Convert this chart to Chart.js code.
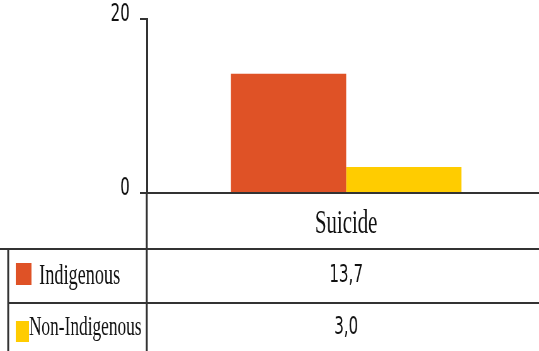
<!DOCTYPE html>
<html>
<head>
<meta charset="utf-8">
<script src="https://cdn.jsdelivr.net/npm/chart.js@4/dist/chart.umd.min.js"></script>
<style>
  html, body { margin: 0; padding: 0; background: #fff; overflow: hidden; }
  #frame { width: 539px; height: 351px; overflow: hidden; }
  #wrap { width: 866px; height: 351px; transform: scaleX(0.63); transform-origin: 0 0; }
</style>
</head>
<body>
<div id="frame"><div id="wrap"><canvas id="rateChart" width="866" height="351"></canvas></div></div>
<script>
const categories = ["Suicide"];
const seriesNames = ["Indigenous", "Non-Indigenous"];
const indigenous = [13.7];
const nonIndigenous = [3.0];
const yTicks = [0, 20];

const colors = ["#DF5226", "#FFCC00"];
const lineColor = "#333";

function fmt(v) {
    return v.toFixed(1).replace(".", ",");
}

// data table under the axis: one row per series with a colour key
const tablePlugin = {
    id: "dataTable",
    afterDraw(chart) {
        const ctx = chart.ctx;
        const area = chart.chartArea;
        const W = chart.width;
        const H = chart.height;
        const axisX = area.left;
        const leftX = 13;
        const top = 249;
        const mid = 303;

        ctx.save();
        ctx.strokeStyle = lineColor;

        ctx.lineWidth = 2;
        ctx.beginPath();
        ctx.moveTo(0, top); ctx.lineTo(W, top);
        ctx.moveTo(leftX, mid); ctx.lineTo(W, mid);
        ctx.stroke();

        ctx.lineWidth = 3;
        ctx.beginPath();
        ctx.moveTo(axisX, area.bottom); ctx.lineTo(axisX, H);
        ctx.moveTo(leftX, top); ctx.lineTo(leftX, H);
        ctx.stroke();

        const rows = [
            { name: seriesNames[0], data: indigenous, color: colors[0], y: 276, size: 29, sw: [25, 263, 25, 22], tx: 62 },
            { name: seriesNames[1], data: nonIndigenous, color: colors[1], y: 328, size: 27.5, sw: [25, 321, 21, 21], tx: 46 }
        ];

        rows.forEach(r => {
            ctx.fillStyle = r.color;
            ctx.fillRect(r.sw[0], r.sw[1], r.sw[2], r.sw[3]);

            ctx.fillStyle = "#111";
            ctx.font = r.size + "px 'Liberation Serif'";
            ctx.textAlign = "left";
            ctx.textBaseline = "middle";
            ctx.fillText(r.name, r.tx, r.y);

            ctx.font = "24px 'DejaVu Sans'";
            ctx.textAlign = "center";
            categories.forEach((c, i) => {
                ctx.fillText(fmt(r.data[i]), chart.scales.x.getPixelForValue(i), r.y);
            });
        });
        ctx.restore();
    }
};

new Chart(document.getElementById("rateChart"), {
    type: "bar",
    data: {
        labels: categories,
        datasets: [
            { label: seriesNames[0], data: indigenous, backgroundColor: colors[0] },
            { label: seriesNames[1], data: nonIndigenous, backgroundColor: colors[1] }
        ]
    },
    options: {
        responsive: false,
        animation: false,
        devicePixelRatio: 1,
        layout: { padding: { top: 19, right: 0, bottom: 0, left: 0 } },
        plugins: { legend: { display: false }, tooltip: { enabled: false } },
        datasets: { bar: { categoryPercentage: 0.578, barPercentage: 1 } },
        scales: {
            x: {
                grid: { display: false, drawTicks: false },
                border: { display: true, color: lineColor, width: 2 },
                ticks: {
                    color: "#111",
                    padding: 12,
                    font: { family: "Liberation Serif", size: 33 }
                },
                afterFit(scale) {
                    scale.height = 351 - 193;
                    scale.paddingLeft = 0;
                    scale.paddingRight = 0;
                }
            },
            y: {
                min: yTicks[0],
                max: yTicks[yTicks.length - 1],
                afterBuildTicks(scale) { scale.ticks = yTicks.map(v => ({ value: v })); },
                grid: { drawOnChartArea: false, drawTicks: true, tickLength: 11, color: lineColor, lineWidth: 2 },
                border: { display: true, color: lineColor, width: 3 },
                ticks: {
                    color: "#111",
                    padding: 16,
                    labelOffset: -4,
                    font: { family: "DejaVu Sans", size: 24 }
                },
                afterFit(scale) {
                    scale.width = 233;
                    scale.paddingTop = 0;
                    scale.paddingBottom = 0;
                }
            }
        }
    },
    plugins: [tablePlugin]
});
</script>
</body>
</html>
